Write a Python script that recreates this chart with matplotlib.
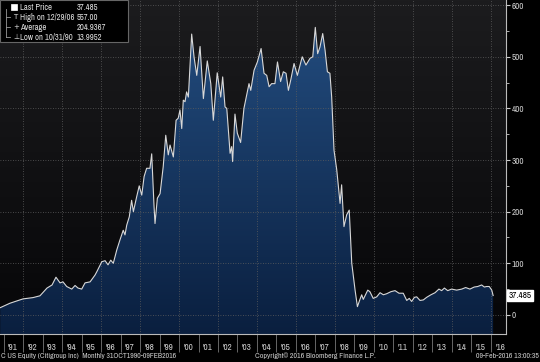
import os
import numpy as np
import matplotlib
matplotlib.use('Agg')
import matplotlib.pyplot as plt
from matplotlib import font_manager as fm
from matplotlib.colors import LinearSegmentedColormap
from matplotlib.patches import Rectangle
from matplotlib.transforms import blended_transform_factory

plt.rcParams['font.family'] = ['Liberation Sans', 'DejaVu Sans']

# look for a narrow face (Bloomberg's font is condensed)
narrow_path = None
cands = []
for f in fm.fontManager.ttflist:
    fn = os.path.basename(f.fname).lower()
    if ('narrow' in fn or 'condensed' in fn) and not any(k in fn for k in ['bold', 'oblique', 'italic']):
        cands.append(f.fname)
cands.sort(key=lambda p: 0 if 'narrow' in os.path.basename(p).lower() else 1)
if cands:
    narrow_path = cands[0]
    txt_font = fm.FontProperties(fname=narrow_path)
else:
    txt_font = fm.FontProperties(family=['Liberation Sans', 'DejaVu Sans'])
fs = 6.6

# Citigroup monthly last price (split adjusted)
years = [1990.83, 1991.33, 1992.00, 1992.51, 1992.87, 1993.23, 1993.49, 1993.69, 1993.90,
         1994.05, 1994.24, 1994.50, 1994.67, 1994.82, 1995.01, 1995.18, 1995.44, 1995.69,
         1995.79, 1996.04, 1996.21, 1996.36, 1996.50, 1996.63, 1996.81, 1996.97, 1997.14,
         1997.23, 1997.32, 1997.45, 1997.57, 1997.66, 1997.83, 1997.96, 1998.09, 1998.21,
         1998.34, 1998.51, 1998.60, 1998.72, 1998.77, 1998.89, 1999.03, 1999.19, 1999.32,
         1999.45, 1999.54, 1999.71, 1999.85, 1999.96, 2000.05, 2000.14, 2000.22, 2000.31,
         2000.39, 2000.48, 2000.65, 2000.77, 2000.91, 2001.08, 2001.25, 2001.45, 2001.63,
         2001.76, 2001.96, 2002.14, 2002.24, 2002.36, 2002.45, 2002.62, 2002.70, 2002.75,
         2002.87, 2002.99, 2003.16, 2003.33, 2003.59, 2003.68, 2003.85, 2004.02, 2004.21,
         2004.36, 2004.50, 2004.62, 2004.75, 2004.92, 2005.05, 2005.21, 2005.35, 2005.49,
         2005.61, 2005.73, 2005.90, 2006.07, 2006.32, 2006.51, 2006.72, 2006.86, 2006.99,
         2007.11, 2007.23, 2007.37, 2007.49, 2007.61, 2007.74, 2007.83, 2007.95, 2008.09,
         2008.26, 2008.34, 2008.46, 2008.60, 2008.73, 2008.86, 2009.03, 2009.15, 2009.28,
         2009.37, 2009.45, 2009.68, 2009.79, 2009.96, 2010.14, 2010.31, 2010.48, 2010.65,
         2010.87, 2011.08, 2011.28, 2011.50, 2011.68, 2011.81, 2011.93, 2012.07, 2012.19,
         2012.36, 2012.53, 2012.70, 2012.92, 2013.13, 2013.33, 2013.47, 2013.61, 2013.78,
         2013.98, 2014.24, 2014.50, 2014.70, 2014.92, 2015.14, 2015.32, 2015.52, 2015.66,
         2015.78, 2015.91, 2016.04, 2016.11]
prices = [14.0, 22.6, 31, 33.5, 37, 52, 58, 73, 62,
          64, 55, 50, 57, 52, 50, 62, 64, 77,
          84, 103, 105, 97, 106, 100, 126, 145, 164,
          155, 174, 190, 222, 200, 229, 250, 232, 268,
          284, 284, 312, 210, 177, 226, 235, 287, 348,
          310, 329, 306, 377, 381, 397, 361, 416, 413,
          432, 422, 544, 500, 464, 520, 419, 492, 448,
          377, 469, 422, 461, 403, 400, 313, 326, 297,
          389, 352, 334, 400, 448, 435, 474, 490, 516,
          468, 464, 442, 448, 448, 490, 452, 471, 468,
          435, 455, 487, 464, 500, 484, 497, 500, 557,
          506, 519, 545, 513, 471, 468, 422, 319, 281,
          216, 252, 171, 194, 203, 100, 48, 16, 30,
          39, 30, 48, 45, 32, 35, 43, 39, 41,
          45, 47, 42, 42, 28, 32, 26, 34, 35,
          28, 29, 34, 39, 43, 50, 47, 52, 47,
          50, 48, 50, 53, 50, 54, 55, 58, 54,
          55, 55, 48, 37.485]

tick_years = list(range(1991, 2017))
year_labels = ["'%02d" % (y % 100) for y in tick_years]
grid_years = list(range(1992, 2017, 2))
y_ticks = list(range(0, 601, 100))

last_price = 37.485
legend_rows = [("Last Price", "37.485"),
               ("High on 12/29/06", "557.00"),
               ("Average", "204.9367"),
               ("Low on 10/31/90", "13.9952")]
legend_marks = ["", "T", "+", "\u22a5"]

footer_left = 'C US Equity (Citigroup Inc)  Monthly 31OCT1990-09FEB2016'
footer_mid = 'Copyright\u00a9 2016 Bloomberg Finance L.P.'
footer_right = '09-Feb-2016 13:00:35'

W, H = 540, 362
fig = plt.figure(figsize=(W / 100, H / 100), dpi=100, facecolor='black')
ax = fig.add_axes([0, 28 / H, 506 / W, 334 / H])
renderer = fig.canvas.get_renderer()


def fit(t, width_px):
    # shrink/grow a text so it spans the same width as in the reference
    w = t.get_window_extent(renderer).width
    t.set_fontsize(t.get_fontsize() * width_px / w)
    return t.get_fontsize()


x0, x1 = 1990.82, 2016.77
y0, y1 = -37, 610
ax.set_xlim(x0, x1)
ax.set_ylim(y0, y1)
ax.set_facecolor('black')

# background gradient
grad = np.linspace(0, 1, 256).reshape(-1, 1)
bg_cmap = LinearSegmentedColormap.from_list('bg', ['#1c1c1e', '#060608'])
ax.imshow(grad, extent=[x0, x1, y0, y1], aspect='auto', cmap=bg_cmap, zorder=0, origin='upper')

# gradient fill under the price
fill_cmap = LinearSegmentedColormap.from_list('fill', ['#224b7d', '#0a1f3f'])
top = max(prices)
im = ax.imshow(grad, extent=[x0, x1, y0, top], aspect='auto', cmap=fill_cmap, zorder=1, origin='upper')
poly = ax.fill_between(years, prices, y0, facecolor='none', edgecolor='none')
im.set_clip_path(poly.get_paths()[0], transform=ax.transData)

# grid
for yv in y_ticks:
    ax.axhline(yv, color='#5e5e5e', lw=0.6, ls=(0, (1, 2)), zorder=2)
for gx in grid_years:
    ax.axvline(gx, color='#5e5e5e', lw=0.6, ls=(0, (1, 2)), zorder=2)

ax.plot(years, prices, color='#d8d8d8', lw=0.8, zorder=3)

# axes styling
for s in ['top', 'left']:
    ax.spines[s].set_visible(False)
for s in ['right', 'bottom']:
    ax.spines[s].set_color('#bbbbbb')
    ax.spines[s].set_linewidth(0.8)

ax.yaxis.tick_right()
ax.set_yticks(y_ticks)
ax.set_yticks(list(range(50, 601, 100)), minor=True)
ax.tick_params(axis='y', which='major', length=3, width=0.8, color='#cccccc',
               labelcolor='#cccccc', pad=1)
ax.tick_params(axis='y', which='minor', length=2, width=0.6, color='#cccccc')
for lab in ax.get_yticklabels():
    lab.set_fontproperties(txt_font)
    lab.set_fontsize(fs)

ax.set_xticks(tick_years)
ax.set_xticklabels([])
ax.tick_params(axis='x', which='major', length=13, width=0.6, color='#777777')

trans = blended_transform_factory(ax.transData, ax.transAxes)
for yr, lab in zip(tick_years, year_labels):
    ax.text(yr + 0.22, -0.04, lab, transform=trans, ha='left', va='center',
            fontproperties=txt_font, fontsize=fs, color='#cccccc', clip_on=False)

# last price tag
ttrans = blended_transform_factory(ax.transAxes, ax.transData)
ax.text(1.005, last_price, '%.3f' % last_price, transform=ttrans, ha='left', va='center',
        fontproperties=txt_font, fontsize=fs, color='black', clip_on=False,
        bbox=dict(boxstyle='square,pad=0.15', fc='white', ec='white'))


# legend box
def fx(px):
    return px / W


def fy(py):
    return 1 - py / H


fig.add_artist(Rectangle((0, fy(42)), fx(128), 42 / H, transform=fig.transFigure,
                         fc='black', ec='#666666', lw=0.8))
row_y = [7, 17, 27, 37]
fig.add_artist(Rectangle((fx(11), fy(10)), fx(6), 6 / H, transform=fig.transFigure,
                         fc='white', ec='white', lw=0.5))
fig.add_artist(plt.Line2D([fx(6), fx(6)], [fy(9), fy(37)], transform=fig.transFigure,
                          color='#999999', lw=0.6))
for ry in row_y[1:]:
    fig.add_artist(plt.Line2D([fx(6), fx(10)], [fy(ry), fy(ry)], transform=fig.transFigure,
                              color='#999999', lw=0.6))

probe = fig.text(0, 0, legend_rows[1][0], fontproperties=txt_font, fontsize=fs)
leg_fs = fit(probe, 54)
probe.remove()
for (lab, val), mk, ry in zip(legend_rows, legend_marks, row_y):
    if mk:
        fig.text(fx(13), fy(ry), mk, ha='left', va='center', fontsize=5, color='#dddddd',
                 family=['DejaVu Sans'])
    fig.text(fx(20), fy(ry), lab, ha='left', va='center', fontproperties=txt_font,
             fontsize=leg_fs, color='#dddddd')
    fig.text(fx(77), fy(ry), val, ha='left', va='center', fontproperties=txt_font,
             fontsize=leg_fs, color='#dddddd')

# footer
t1 = fig.text(fx(1), fy(356), footer_left, ha='left', va='center',
              fontproperties=txt_font, fontsize=fs, color='#cccccc')
fit(t1, 175)
t2 = fig.text(fx(315), fy(356), footer_mid, ha='center', va='center',
              fontproperties=txt_font, fontsize=fs, color='#cccccc')
fit(t2, 120)
t3 = fig.text(fx(539), fy(356), footer_right, ha='right', va='center',
              fontproperties=txt_font, fontsize=fs, color='#cccccc')
fit(t3, 63)

fig.savefig('out.png', dpi=100, facecolor='black')
